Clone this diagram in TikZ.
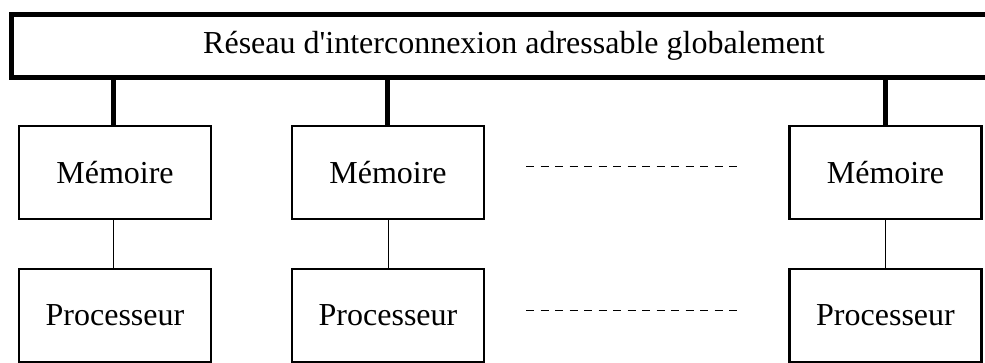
\documentclass[tikz,border=0pt]{standalone}
\usepackage{fontspec}
\setmainfont{Liberation Serif}[Ligatures=TeXOff]
\begin{document}
\begin{tikzpicture}[x=1pt,y=-1pt,
  bar/.style={draw,line width=5pt,minimum width=1006pt,minimum height=63pt,inner sep=0pt,font=\fontsize{32}{36}\selectfont},
  unit/.style={draw,line width=2.3pt,minimum width=192pt,minimum height=93pt,inner sep=0pt,font=\fontsize{32}{36}\selectfont},
  bus/.style={line width=5pt},
  link/.style={line width=1pt},
  etc/.style={line width=1pt,dash pattern=on 8pt off 6.5pt}]
\useasboundingbox (0,0) rectangle (985,362);
\clip (0,0) rectangle (985,362);
\node[bar] (net) at (514,45.5) {Réseau d'interconnexion adressable globalement};
\node[unit,anchor=north] (m1) at (115,125) {Mémoire};
\node[unit,anchor=north] (m2) at (388,125) {Mémoire};
\node[unit,anchor=north] (m3) at (885.5,125) {Mémoire};
\node[unit,anchor=north] (p1) at (115,268) {Processeur};
\node[unit,anchor=north] (p2) at (388,268) {Processeur};
\node[unit,anchor=north] (p3) at (885.5,268) {Processeur};
\draw[bus] (m1.north -| 113,0) -- (net.south -| 113,0);
\draw[bus] (m2.north -| 387,0) -- (net.south -| 387,0);
\draw[bus] (m3.north -| 885,0) -- (net.south -| 885,0);
\draw[link] (m1.south -| 113,0) -- (p1.north -| 113,0);
\draw[link] (m2) -- (p2);
\draw[link] (m3) -- (p3);
\coordinate (d1a) at (526,166);
\coordinate (d1b) at (743,166);
\coordinate (d2a) at (526,310);
\coordinate (d2b) at (743,310);
\draw[etc] (d1a) -- (d1b);
\draw[etc] (d2a) -- (d2b);
\end{tikzpicture}
\end{document}
